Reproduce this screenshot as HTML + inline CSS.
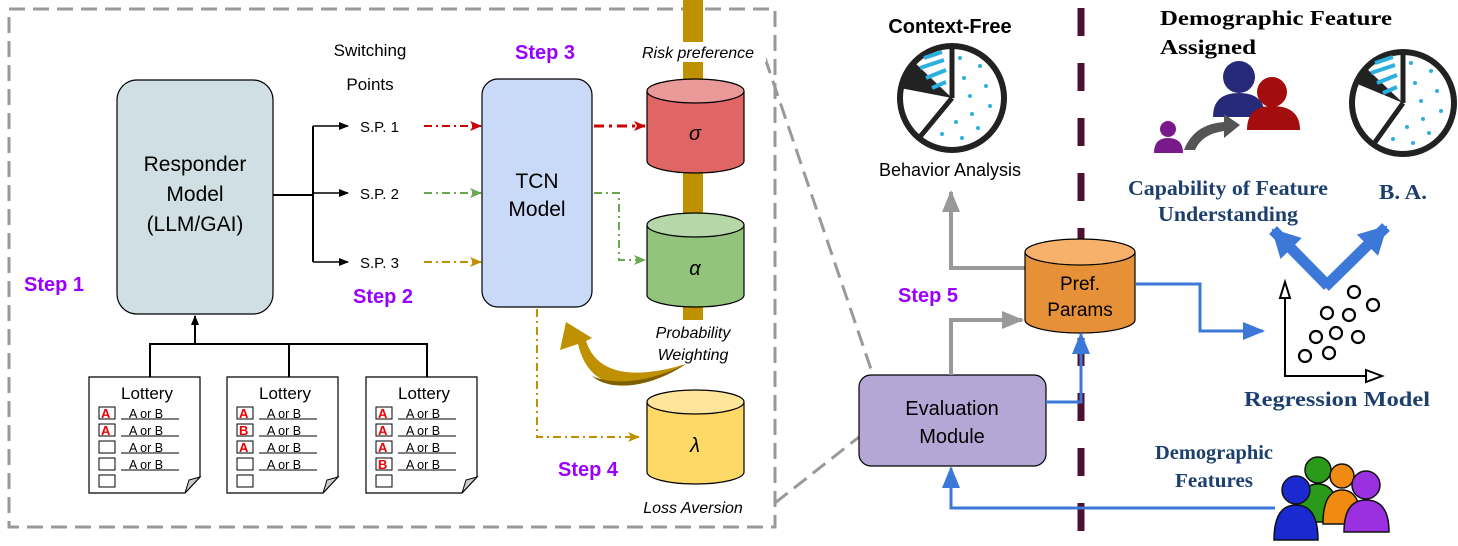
<!DOCTYPE html>
<html><head><meta charset="utf-8"><style>
html,body{margin:0;padding:0;background:#fff;}
svg{display:block}
text{font-family:"Liberation Sans",sans-serif;}
.s{font-family:"Liberation Serif","DejaVu Serif",serif;font-weight:bold;}
</style></head><body>
<svg width="1458" height="546" viewBox="0 0 1458 546" xmlns="http://www.w3.org/2000/svg">
<defs>
<marker id="ak" markerWidth="10" markerHeight="10" refX="9" refY="5" orient="auto" markerUnits="userSpaceOnUse"><path d="M0,1 L10,5 L0,9 Z" fill="#000"/></marker>
<marker id="ar" markerWidth="12" markerHeight="10" refX="11" refY="5" orient="auto" markerUnits="userSpaceOnUse"><path d="M0,0 L12,5 L0,10 L3,5Z" fill="#cc0000"/></marker>
<marker id="ag" markerWidth="12" markerHeight="10" refX="11" refY="5" orient="auto" markerUnits="userSpaceOnUse"><path d="M0,0 L12,5 L0,10 L3,5Z" fill="#6aa84f"/></marker>
<marker id="ay" markerWidth="12" markerHeight="10" refX="11" refY="5" orient="auto" markerUnits="userSpaceOnUse"><path d="M0,0 L12,5 L0,10 L3,5Z" fill="#bf9000"/></marker>
<marker id="agr" markerWidth="22" markerHeight="18" refX="20" refY="9" orient="auto" markerUnits="userSpaceOnUse"><path d="M0,0 L22,9 L0,18 Z" fill="#999"/></marker>
<marker id="ab" markerWidth="22" markerHeight="18" refX="20" refY="9" orient="auto" markerUnits="userSpaceOnUse"><path d="M0,0 L22,9 L0,18 Z" fill="#3c78d8"/></marker>
<marker id="abig" markerWidth="30" markerHeight="30" refX="26" refY="15" orient="auto" markerUnits="userSpaceOnUse"><path d="M0,0 L28,15 L0,30 Z" fill="#3c78d8"/></marker>
</defs>

<rect x="9" y="9" width="766" height="518" fill="none" stroke="#999" stroke-width="3" stroke-dasharray="16,8"/>
<line x1="765" y1="58" x2="873" y2="375" stroke="#999" stroke-width="3" stroke-dasharray="16,8"/>
<line x1="775" y1="503" x2="859" y2="437" stroke="#999" stroke-width="3" stroke-dasharray="16,8"/>

<rect x="117" y="80" width="156" height="234" rx="20" fill="#d0dfe3" stroke="#000" stroke-width="1.2"/>
<text x="195" y="171" font-size="21" text-anchor="middle">Responder</text>
<text x="195" y="201" font-size="21" text-anchor="middle">Model</text>
<text x="195" y="231" font-size="21" text-anchor="middle">(LLM/GAI)</text>

<path d="M273,195 H313 M313,126 V262" stroke="#000" stroke-width="2" fill="none"/>
<path d="M313,126 H348" stroke="#000" stroke-width="1.5" marker-end="url(#ak)"/>
<path d="M313,193 H348" stroke="#000" stroke-width="1.5" marker-end="url(#ak)"/>
<path d="M313,262 H348" stroke="#000" stroke-width="1.5" marker-end="url(#ak)"/>
<text x="360" y="132" font-size="15">S.P. 1</text>
<text x="360" y="199" font-size="15">S.P. 2</text>
<text x="360" y="268" font-size="15">S.P. 3</text>
<text x="370" y="56" font-size="17" text-anchor="middle">Switching</text>
<text x="370" y="90" font-size="17" text-anchor="middle">Points</text>

<path d="M424,126 H481" stroke="#cc0000" stroke-width="2" stroke-dasharray="8,4,2,4" marker-end="url(#ar)"/>
<path d="M424,193 H481" stroke="#6aa84f" stroke-width="2" stroke-dasharray="8,4,2,4" marker-end="url(#ag)"/>
<path d="M424,262 H481" stroke="#bf9000" stroke-width="2" stroke-dasharray="8,4,2,4" marker-end="url(#ay)"/>

<rect x="482" y="79" width="110" height="228" rx="16" fill="#c9daf8" stroke="#000" stroke-width="1.2"/>
<text x="537" y="188" font-size="21" text-anchor="middle">TCN</text>
<text x="537" y="216" font-size="21" text-anchor="middle">Model</text>
<text x="545" y="59" font-size="20" font-weight="bold" fill="#9900ff" text-anchor="middle">Step 3</text>
<text x="383" y="303" font-size="20" font-weight="bold" fill="#9900ff" text-anchor="middle">Step 2</text>
<text x="54" y="291" font-size="20" font-weight="bold" fill="#9900ff" text-anchor="middle">Step 1</text>
<text x="588" y="476" font-size="20" font-weight="bold" fill="#9900ff" text-anchor="middle">Step 4</text>

<rect x="683" y="0" width="20" height="320" fill="#bf9000"/>
<rect x="632" y="42" width="134" height="20" fill="#fff"/>
<text x="698" y="58" font-size="16" font-style="italic" text-anchor="middle">Risk preference</text>

<path d="M594,126 H645" stroke="#cc0000" stroke-width="3" stroke-dasharray="10,5,3,5" marker-end="url(#ar)"/>
<path d="M594,193 H619 V260 H645" stroke="#6aa84f" stroke-width="2" fill="none" stroke-dasharray="8,4,2,4" marker-end="url(#ag)"/>
<path d="M537,309 V437 H639" stroke="#bf9000" stroke-width="2" fill="none" stroke-dasharray="8,4,2,4" marker-end="url(#ay)"/>

<g stroke="#000" stroke-width="1.2">
<path d="M647,91 V161 A48.5,12 0 0 0 744,161 V91" fill="#e06666"/>
<ellipse cx="695.5" cy="91" rx="48.5" ry="12" fill="#ea9999"/>
<path d="M647,225 V295 A48.5,12 0 0 0 744,295 V225" fill="#93c47d"/>
<ellipse cx="695.5" cy="225" rx="48.5" ry="12" fill="#b6d7a8"/>
<path d="M647,402 V472 A48.5,12 0 0 0 744,472 V402" fill="#ffd966"/>
<ellipse cx="695.5" cy="402" rx="48.5" ry="12" fill="#ffe599"/>
</g>
<text x="695" y="140" font-size="20" font-style="italic" text-anchor="middle">σ</text>
<text x="695" y="275" font-size="20" font-style="italic" text-anchor="middle">α</text>
<text x="695" y="452" font-size="20" font-style="italic" text-anchor="middle">λ</text>
<text x="693" y="338" font-size="16" font-style="italic" text-anchor="middle">Probability</text>
<text x="693" y="360" font-size="16" font-style="italic" text-anchor="middle">Weighting</text>
<text x="693" y="513" font-size="16" font-style="italic" text-anchor="middle">Loss Aversion</text>

<!-- curved gold arrow -->
<path d="M686,364 C640,394 590,396 578,344 L560,350 L566,322 L592,338 L586,341 C598,378 640,378 686,364 Z" fill="#bf9000"/>
<path d="M686,364 C650,388 610,392 592,376 C615,386 650,382 686,364 Z" fill="#7f6000"/>

<path d="M150,377 V344 H427 V377 M289,344 V377" stroke="#000" stroke-width="2" fill="none"/>
<path d="M195,344 V316" stroke="#000" stroke-width="2" marker-end="url(#ak)"/>

<g font-size="12.5">
<g transform="translate(89,377)">
<path d="M0,0 H111 V100 L96,116 H0 Z" fill="#fff" stroke="#000" stroke-width="1.2"/><path d="M96,116 L100,103 L111,100 Z" fill="#ccc" stroke="#000"/>
<text x="58" y="22" font-size="17" text-anchor="middle">Lottery</text>
<rect x="10" y="30" width="16" height="12" fill="#fff" stroke="#000"/><text x="12" y="41" fill="#e00" font-size="13" font-weight="bold">A</text>
<rect x="10" y="47" width="16" height="12" fill="#fff" stroke="#000"/><text x="12" y="58" fill="#e00" font-size="13" font-weight="bold">A</text>
<rect x="10" y="64" width="16" height="12" fill="#fff" stroke="#000"/>
<rect x="10" y="81" width="16" height="12" fill="#fff" stroke="#000"/>
<rect x="10" y="98" width="16" height="12" fill="#fff" stroke="#000"/>
<text x="40" y="41">A or B</text><text x="40" y="58">A or B</text><text x="40" y="75">A or B</text><text x="40" y="92">A or B</text>
<path d="M32,42 H90 M32,59 H90 M32,76 H90 M32,93 H90" stroke="#000"/>
</g>
<g transform="translate(227,377)">
<path d="M0,0 H111 V100 L96,116 H0 Z" fill="#fff" stroke="#000" stroke-width="1.2"/><path d="M96,116 L100,103 L111,100 Z" fill="#ccc" stroke="#000"/>
<text x="58" y="22" font-size="17" text-anchor="middle">Lottery</text>
<rect x="10" y="30" width="16" height="12" fill="#fff" stroke="#000"/><text x="12" y="41" fill="#e00" font-size="13" font-weight="bold">A</text>
<rect x="10" y="47" width="16" height="12" fill="#fff" stroke="#000"/><text x="12" y="58" fill="#e00" font-size="13" font-weight="bold">B</text>
<rect x="10" y="64" width="16" height="12" fill="#fff" stroke="#000"/><text x="12" y="75" fill="#e00" font-size="13" font-weight="bold">A</text>
<rect x="10" y="81" width="16" height="12" fill="#fff" stroke="#000"/>
<rect x="10" y="98" width="16" height="12" fill="#fff" stroke="#000"/>
<text x="40" y="41">A or B</text><text x="40" y="58">A or B</text><text x="40" y="75">A or B</text><text x="40" y="92">A or B</text>
<path d="M32,42 H90 M32,59 H90 M32,76 H90 M32,93 H90" stroke="#000"/>
</g>
<g transform="translate(366,377)">
<path d="M0,0 H111 V100 L96,116 H0 Z" fill="#fff" stroke="#000" stroke-width="1.2"/><path d="M96,116 L100,103 L111,100 Z" fill="#ccc" stroke="#000"/>
<text x="58" y="22" font-size="17" text-anchor="middle">Lottery</text>
<rect x="10" y="30" width="16" height="12" fill="#fff" stroke="#000"/><text x="12" y="41" fill="#e00" font-size="13" font-weight="bold">A</text>
<rect x="10" y="47" width="16" height="12" fill="#fff" stroke="#000"/><text x="12" y="58" fill="#e00" font-size="13" font-weight="bold">A</text>
<rect x="10" y="64" width="16" height="12" fill="#fff" stroke="#000"/><text x="12" y="75" fill="#e00" font-size="13" font-weight="bold">A</text>
<rect x="10" y="81" width="16" height="12" fill="#fff" stroke="#000"/><text x="12" y="92" fill="#e00" font-size="13" font-weight="bold">B</text>
<rect x="10" y="98" width="16" height="12" fill="#fff" stroke="#000"/>
<text x="40" y="41">A or B</text><text x="40" y="58">A or B</text><text x="40" y="75">A or B</text><text x="40" y="92">A or B</text>
<path d="M32,42 H90 M32,59 H90 M32,76 H90 M32,93 H90" stroke="#000"/>
</g>
</g>

<line x1="1081" y1="8" x2="1081" y2="546" stroke="#4c1130" stroke-width="7" stroke-dasharray="28,27"/>

<rect x="859" y="375" width="187" height="91" rx="12" fill="#b4a7d6" stroke="#000" stroke-width="1.2"/>
<text x="952" y="415" font-size="20" text-anchor="middle">Evaluation</text>
<text x="952" y="443" font-size="20" text-anchor="middle">Module</text>
<text x="928" y="302" font-size="20" font-weight="bold" fill="#9900ff" text-anchor="middle">Step 5</text>

<path d="M951,375 V320 H1022" stroke="#999" stroke-width="4" fill="none" marker-end="url(#agr)"/>
<path d="M1025,268 H951 V192" stroke="#999" stroke-width="4" fill="none" marker-end="url(#agr)"/>

<path d="M1025,252 V320 A55,13 0 0 0 1135,320 V252" fill="#e69138" stroke="#000" stroke-width="1.2"/>
<ellipse cx="1080" cy="252" rx="55" ry="13" fill="#f6b26b" stroke="#000" stroke-width="1.2"/>
<text x="1080" y="290" font-size="19" text-anchor="middle">Pref.</text>
<text x="1080" y="316" font-size="19" text-anchor="middle">Params</text>

<path d="M1046,402 H1081 V334" stroke="#3c78d8" stroke-width="3" fill="none" marker-end="url(#ab)"/>
<path d="M1136,284 H1200 V331 H1263" stroke="#3c78d8" stroke-width="3" fill="none" marker-end="url(#ab)"/>
<path d="M1275,508 H951 V468" stroke="#3c78d8" stroke-width="3" fill="none" marker-end="url(#ab)"/>
<path d="M1328,286 L1273,230" stroke="#3c78d8" stroke-width="11" fill="none" marker-end="url(#abig)"/>
<path d="M1325,287 L1386,227" stroke="#3c78d8" stroke-width="11" fill="none" marker-end="url(#abig)"/>

<text x="950" y="33" font-size="20" font-weight="bold" text-anchor="middle">Context-Free</text>
<text x="950" y="176" font-size="18" text-anchor="middle" font-family="DejaVu Sans,sans-serif">Behavior Analysis</text>
<g transform="translate(952,98)">
<circle r="52" fill="#fff" stroke="#222" stroke-width="6"/>
<path d="M0,0 L-52,-10 A52,52 0 0 1 -38,-36 Z" fill="#222"/>
<path d="M0,0 L0,-52 M0,0 L-33,40" stroke="#222" stroke-width="5"/>
<g stroke="#2bb0e0" stroke-width="4"><path d="M-28,-40 L-10,-46 M-32,-30 L-8,-38 M-26,-20 L-6,-28 M-20,-10 L-6,-16"/></g>
<g fill="#2bb0e0"><circle cx="8" cy="-40" r="2"/><circle cx="28" cy="-32" r="2"/><circle cx="12" cy="-20" r="2"/><circle cx="34" cy="-12" r="2"/><circle cx="18" cy="-2" r="2"/><circle cx="38" cy="8" r="2"/><circle cx="20" cy="16" r="2"/><circle cx="4" cy="24" r="2"/><circle cx="26" cy="30" r="2"/><circle cx="-10" cy="36" r="2"/><circle cx="10" cy="40" r="2"/></g>
</g>

<g transform="translate(1403,103)">
<circle r="51" fill="#fff" stroke="#222" stroke-width="6"/>
<path d="M0,0 L-48,-20 A52,52 0 0 1 -38,-36 Z" fill="#222"/>
<path d="M0,0 L0,-52 M0,0 L-30,42" stroke="#222" stroke-width="5"/>
<g stroke="#2bb0e0" stroke-width="4"><path d="M-28,-40 L-10,-46 M-32,-30 L-8,-38 M-26,-20 L-6,-28 M-20,-10 L-6,-16"/></g>
<g fill="#2bb0e0"><circle cx="8" cy="-40" r="2"/><circle cx="28" cy="-32" r="2"/><circle cx="12" cy="-20" r="2"/><circle cx="34" cy="-12" r="2"/><circle cx="18" cy="-2" r="2"/><circle cx="38" cy="8" r="2"/><circle cx="20" cy="16" r="2"/><circle cx="4" cy="24" r="2"/><circle cx="26" cy="30" r="2"/><circle cx="-10" cy="36" r="2"/><circle cx="10" cy="40" r="2"/></g>
</g>

<text x="1160" y="25" font-size="21" class="s" textLength="232" lengthAdjust="spacingAndGlyphs">Demographic Feature</text>
<text x="1160" y="54" font-size="21" class="s" textLength="96" lengthAdjust="spacingAndGlyphs">Assigned</text>
<circle cx="1239" cy="77" r="16" fill="#262a78"/><path d="M1213,117 Q1213,93 1239,93 Q1265,93 1265,117 Z" fill="#262a78"/>
<circle cx="1272" cy="92" r="15" fill="#a30d0d"/><path d="M1247,130 Q1247,106 1272,106 Q1300,106 1300,130 Z" fill="#a30d0d"/>
<circle cx="1168" cy="129" r="8" fill="#7a1a8a"/><path d="M1154,153 Q1154,138 1168,138 Q1183,138 1183,153 Z" fill="#7a1a8a"/>
<path d="M1184,150 Q1194,124 1224,122 L1224,114 L1240,125 L1224,138 L1224,131 Q1202,134 1195,150 Z" fill="#555"/>

<text x="1228" y="195" font-size="21" class="s" fill="#1c3f6e" text-anchor="middle" textLength="200" lengthAdjust="spacingAndGlyphs">Capability of Feature</text>
<text x="1228" y="221" font-size="21" class="s" fill="#1c3f6e" text-anchor="middle" textLength="140" lengthAdjust="spacingAndGlyphs">Understanding</text>
<text x="1403" y="199" font-size="21" class="s" fill="#1c3f6e" text-anchor="middle" textLength="48" lengthAdjust="spacingAndGlyphs">B. A.</text>

<path d="M1285,296 V376 H1375" stroke="#000" stroke-width="2" fill="none"/>
<path d="M1280,298 L1285,282 L1290,298 Z" fill="#fff" stroke="#000" stroke-width="2"/>
<path d="M1366,370 L1382,376 L1366,382 Z" fill="#fff" stroke="#000" stroke-width="2"/>
<g fill="none" stroke="#000" stroke-width="2.2">
<circle cx="1354" cy="292" r="6"/><circle cx="1373" cy="305" r="6"/><circle cx="1327" cy="313" r="6"/><circle cx="1349" cy="315" r="6"/>
<circle cx="1316" cy="337" r="6"/><circle cx="1336" cy="333" r="6"/><circle cx="1358" cy="337" r="6"/><circle cx="1305" cy="356" r="6"/><circle cx="1329" cy="353" r="6"/>
</g>
<text x="1337" y="406" font-size="21" class="s" fill="#1c3f6e" text-anchor="middle" textLength="186" lengthAdjust="spacingAndGlyphs">Regression Model</text>
<text x="1214" y="459" font-size="20" class="s" fill="#1c3f6e" text-anchor="middle" textLength="118" lengthAdjust="spacingAndGlyphs">Demographic</text>
<text x="1214" y="487" font-size="20" class="s" fill="#1c3f6e" text-anchor="middle" textLength="78" lengthAdjust="spacingAndGlyphs">Features</text>

<g stroke="#111" stroke-width="1.5">
<circle cx="1318" cy="470" r="13" fill="#2a9a1a"/><path d="M1297,522 Q1297,484 1318,484 Q1339,484 1339,522 Z" fill="#2a9a1a"/>
<circle cx="1342" cy="476" r="12" fill="#f08a10"/><path d="M1323,524 Q1323,490 1342,490 Q1361,490 1361,524 Z" fill="#f08a10"/>
<circle cx="1296" cy="490" r="14" fill="#1a2ad0"/><path d="M1274,540 Q1274,505 1296,505 Q1318,505 1318,540 Z" fill="#1a2ad0"/>
<circle cx="1366" cy="485" r="14" fill="#9a30e0"/><path d="M1344,532 Q1344,500 1366,500 Q1389,500 1389,532 Z" fill="#9a30e0"/>
</g>
</svg>
</body></html>
